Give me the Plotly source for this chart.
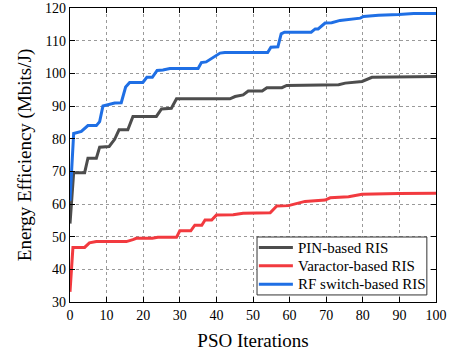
import plotly.graph_objects as go

# PIN-based RIS
pin_x = [0, 1, 4, 4.9, 7.2, 8.1, 10.7, 12.2, 13.4, 15.8, 17.2, 23.6, 25, 27.7, 29.1, 43.7, 45.1, 47.3, 48.7, 52.5, 53.8, 57.9, 59.2, 73.4, 75.2, 79.8, 82.5, 89.8, 100]
pin_y = [54, 69.6, 69.6, 74.0, 74.0, 77.4, 77.6, 79.8, 82.7, 82.7, 86.8, 86.8, 89.1, 89.3, 92.2, 92.2, 92.9, 93.4, 94.6, 94.6, 95.6, 95.6, 96.3, 96.5, 97.0, 97.5, 98.8, 98.9, 99.0]

# Varactor-based RIS
var_x = [0, 0.8, 4.0, 5.3, 7.2, 15.4, 17.2, 18.1, 22.5, 24, 29.1, 30, 33.0, 34.1, 36.0, 36.9, 38.7, 40, 44.6, 47.3, 54.7, 56.5, 59.7, 61.5, 64.2, 69.7, 71.1, 76.1, 78, 79.8, 89.8, 100]
var_y = [33.1, 46.7, 46.7, 48.1, 48.5, 48.5, 49.1, 49.5, 49.5, 49.8, 49.8, 51.8, 51.8, 53.5, 53.5, 55.1, 55.1, 56.6, 56.7, 57.2, 57.3, 59.4, 59.5, 60.1, 60.8, 61.2, 61.9, 62.2, 62.7, 63.0, 63.2, 63.3]

# RF switch-based RIS
rf_x = [0, 1, 3.1, 4.9, 7.2, 8.1, 9.0, 10.9, 12.2, 14, 15.2, 16.3, 19.9, 21.0, 22.5, 23.8, 25.4, 27.3, 35.0, 35.9, 37.2, 41, 42.3, 54.0, 54.9, 56.8, 57.7, 58.6, 65.9, 67.0, 67.8, 69.7, 71.5, 73.8, 79.3, 80.2, 84.3, 89.8, 93.9, 100]
rf_y = [61, 81.6, 82.2, 84.0, 84.0, 85.2, 90.0, 90.5, 90.9, 91.0, 95.8, 97.2, 97.2, 98.8, 98.8, 100.9, 101.0, 101.5, 101.5, 103.3, 103.5, 106.2, 106.4, 106.4, 108.0, 108.1, 112.1, 112.6, 112.6, 113.6, 113.6, 115.4, 115.5, 116.2, 116.9, 117.4, 117.8, 118.0, 118.3, 118.3]

series_names = ["PIN-based RIS", "Varactor-based RIS", "RF switch-based RIS"]
series_colors = ["#4d4d4d", "#f23a3f", "#1f6fe5"]
series_x = [pin_x, var_x, rf_x]
series_y = [pin_y, var_y, rf_y]

FONT = "Liberation Serif"

fig = go.Figure()
for name, xs, ys, c in zip(series_names, series_x, series_y, series_colors):
    fig.add_trace(go.Scatter(x=xs, y=ys, mode="lines", name=name,
                             line=dict(color=c, width=3)))

fig.update_layout(template="none")

for ax in (fig.layout.xaxis, fig.layout.yaxis):
    ax.update(showline=True, linecolor="black", linewidth=1.2, mirror="ticks",
              ticks="inside", ticklen=5, tickcolor="black",
              showgrid=True, gridcolor="#9a9a9a", griddash="dot", gridwidth=1,
              zeroline=False)
    ax.tickfont.family = FONT
    ax.tickfont.size = 14
    ax.tickfont.color = "black"

fig.layout.xaxis.update(range=[0, 100], dtick=10)
fig.layout.yaxis.update(range=[30, 120], dtick=10)
fig.layout.xaxis.title.text = "PSO Iterations"
fig.layout.xaxis.title.font.family = FONT
fig.layout.xaxis.title.font.size = 19
fig.layout.xaxis.title.font.color = "black"
fig.layout.xaxis.title.standoff = 12
fig.layout.yaxis.title.text = "Energy Efficiency (Mbits/J)"
fig.layout.yaxis.title.font.family = FONT
fig.layout.yaxis.title.font.size = 19
fig.layout.yaxis.title.font.color = "black"
fig.layout.yaxis.title.standoff = 8

# Legend drawn as a boxed key (paper coordinates of the plot area)
box_x0, box_x1, box_y0, box_y1 = 0.511, 0.975, 0.024, 0.221
row_y = [0.185, 0.123, 0.060]
fig.add_shape(type="rect", xref="paper", yref="paper",
              x0=box_x0, x1=box_x1, y0=box_y0, y1=box_y1,
              line=dict(color="#333333", width=1), fillcolor="white", layer="above")
for name, c, ry in zip(series_names, series_colors, row_y):
    fig.add_shape(type="line", xref="paper", yref="paper",
                  x0=0.516, x1=0.609, y0=ry, y1=ry,
                  line=dict(color=c, width=3), layer="above")
    fig.add_annotation(xref="paper", yref="paper", x=0.617, y=ry, text=name,
                       showarrow=False, xanchor="left", yanchor="middle",
                       font=dict(family=FONT, size=15, color="black"))

fig.update_layout(
    width=450, height=351,
    margin=dict(l=70, r=14, t=8, b=49),
    paper_bgcolor="white", plot_bgcolor="white",
    font=dict(family=FONT, color="black", size=14),
    showlegend=False,
)

fig.write_html("out.html")
